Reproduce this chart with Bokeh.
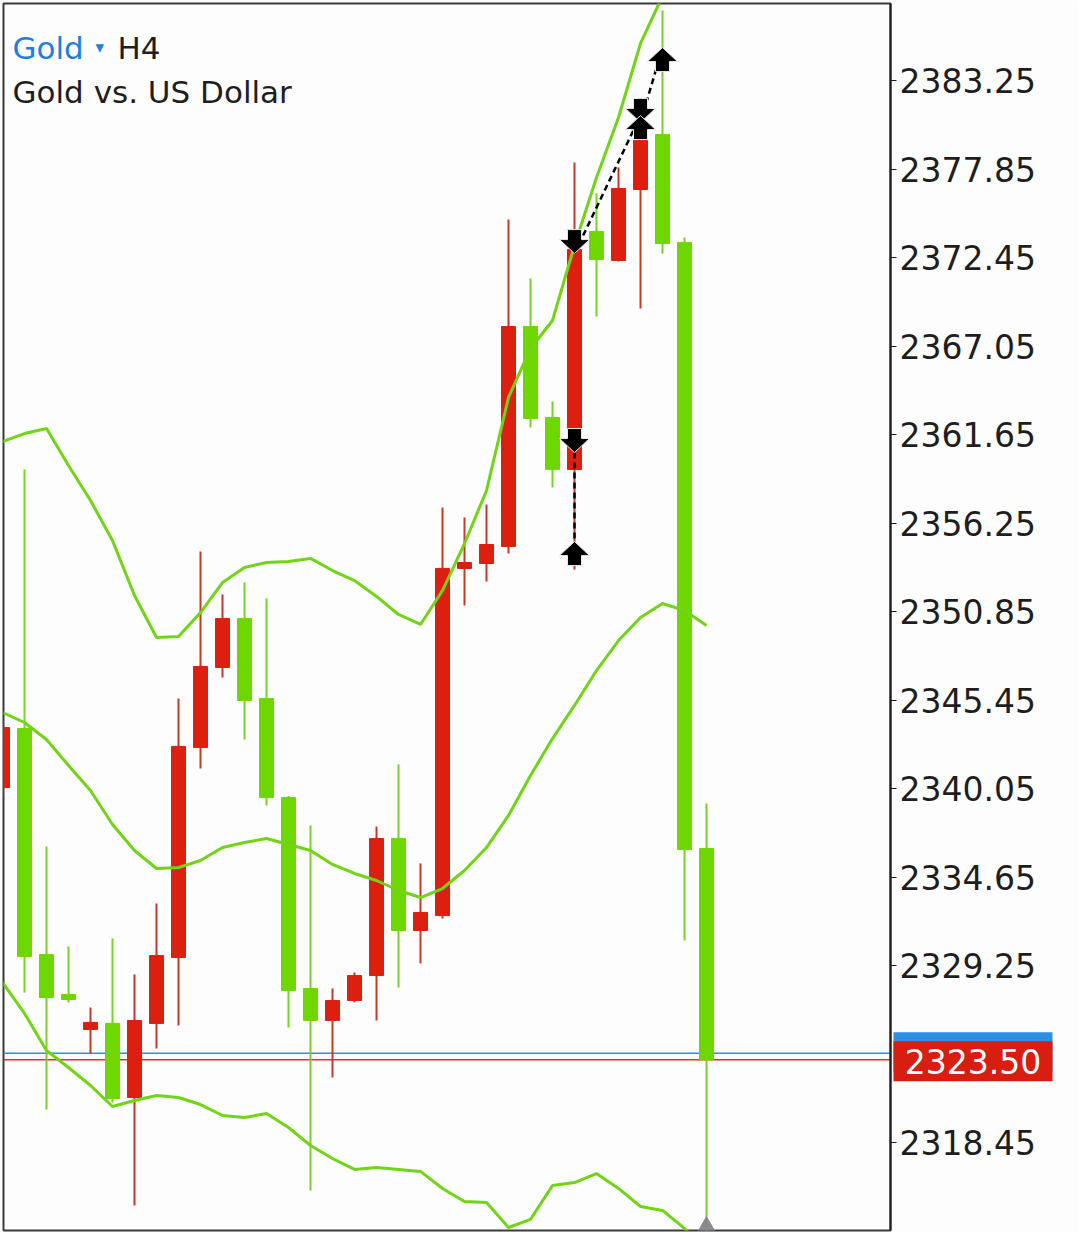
from bokeh.plotting import figure
from bokeh.layouts import row
from bokeh.models import (Range1d, FixedTicker, PrintfTickFormatter, Span, Label,
                          ColumnDataSource)
from bokeh.core.properties import value
from bokeh.embed import file_html
from bokeh.resources import INLINE

# ---------------- data (Gold H4 candles) ----------------
opens = [2340.11, 2343.71, 2329.92, 2327.48, 2325.35, 2325.72, 2321.20, 2325.72, 2329.74, 2342.55,
         2347.44, 2350.42, 2345.54, 2339.50, 2327.85, 2325.90, 2327.12, 2328.64, 2337.00, 2331.39,
         2332.30, 2353.48, 2353.78, 2354.82, 2368.24, 2362.69, 2359.52, 2374.04, 2372.27, 2376.60,
         2379.96, 2373.37, 2336.39]
highs = [2344.20, 2359.52, 2336.51, 2330.41, 2326.69, 2330.90, 2328.70, 2333.04, 2345.54, 2354.51,
         2351.89, 2352.62, 2351.65, 2339.60, 2337.80, 2327.85, 2328.83, 2337.73, 2341.52, 2335.48,
         2357.20, 2356.59, 2357.38, 2374.77, 2371.17, 2363.66, 2378.25, 2376.36, 2377.94, 2380.80,
         2387.52, 2373.67, 2339.14]
lows = [2339.60, 2327.61, 2320.47, 2327.00, 2323.88, 2320.90, 2314.61, 2324.19, 2325.59, 2341.27,
        2346.82, 2343.04, 2339.02, 2325.47, 2315.53, 2322.42, 2327.00, 2325.90, 2327.91, 2329.38,
        2332.12, 2351.22, 2352.68, 2354.39, 2362.08, 2358.42, 2353.41, 2368.85, 2372.21, 2369.34,
        2372.69, 2330.78, 2312.00]
closes = [2343.77, 2329.80, 2327.30, 2327.18, 2325.78, 2321.14, 2325.90, 2329.86, 2342.62, 2347.50,
          2350.42, 2345.42, 2339.50, 2327.73, 2325.90, 2327.12, 2328.64, 2337.00, 2331.39, 2332.49,
          2353.48, 2353.84, 2354.94, 2368.24, 2362.63, 2359.52, 2372.94, 2372.33, 2376.66, 2379.59,
          2373.30, 2336.33, 2323.50]

bb_upper = [2361.22, 2361.71, 2362.02, 2359.76, 2357.62, 2355.18, 2351.83, 2349.27, 2349.33, 2350.79,
            2352.62, 2353.54, 2353.84, 2353.90, 2354.09, 2353.35, 2352.74, 2351.77, 2350.67, 2350.06,
            2352.13, 2355.00, 2358.23, 2363.91, 2366.90, 2368.61, 2373.18, 2377.33, 2380.99, 2385.51,
            2388.40, 2395.00, 2399.00]
bb_middle = [2344.69, 2344.08, 2343.04, 2341.46, 2339.93, 2337.86, 2336.27, 2335.17, 2335.23, 2335.66,
             2336.45, 2336.76, 2337.00, 2336.64, 2336.27, 2335.42, 2334.87, 2334.44, 2333.83, 2333.40,
             2333.95, 2335.05, 2336.45, 2338.41, 2340.85, 2343.10, 2345.12, 2347.25, 2349.08, 2350.49,
             2351.34, 2350.91, 2350.00]
bb_lower = [2328.22, 2326.33, 2324.07, 2323.03, 2321.93, 2320.65, 2321.02, 2321.32, 2321.20, 2320.77,
            2320.10, 2319.98, 2320.22, 2319.37, 2318.27, 2317.48, 2316.81, 2316.93, 2316.81, 2316.69,
            2315.65, 2314.85, 2314.79, 2313.27, 2313.76, 2315.83, 2316.01, 2316.56, 2315.65, 2314.55,
            2314.31, 2313.21, 2311.90]

tick_values = [2383.25, 2377.85, 2372.45, 2367.05, 2361.65, 2356.25, 2350.85,
               2345.45, 2340.05, 2334.65, 2329.25, 2318.45]
bid_price = 2323.50
ask_price = 2323.90

# trades: open (sell arrow, pointing down) -> close (buy arrow, pointing up)
trade_open_idx = [26, 26, 29]
trade_open_price = [2360.55, 2372.69, 2380.69]
trade_close_idx = [26, 29, 30]
trade_close_price = [2355.12, 2381.11, 2385.26]

# ---------------- layout constants ----------------
PX_X = 22.0      # pixels per bar
PX_Y = 16.39     # pixels per dollar
LEFT, TOP, BOTTOM = 3, 3, 3
FRAME_W = 887
FRAME_H = 1227
AXIS_W = 188
TOTAL_W = LEFT + FRAME_W + AXIS_W
TOTAL_H = TOP + FRAME_H + BOTTOM

x_start = (LEFT - 2) / PX_X
x_end = x_start + FRAME_W / PX_X
y_top = 2383.25 + (80 - TOP) / PX_Y
y_bot = y_top - FRAME_H / PX_Y


def sx(px):
    return x_start + (px - LEFT) / PX_X


def sy(py):
    return y_top - (py - TOP) / PX_Y


RED = "#dc1f0e"
GREEN = "#6fd700"
RED_WICK = "#c0392b"
GREEN_WICK = "#7ccf2a"
BAND = "#72d416"
FONT = "DejaVu Sans"

y_range = Range1d(y_bot, y_top)
p = figure(width=TOTAL_W, height=TOTAL_H,
           x_range=Range1d(x_start, x_end), y_range=y_range,
           output_backend="svg", toolbar_location=None,
           x_axis_location=None, y_axis_location="right",
           min_border_left=LEFT, min_border_top=TOP, min_border_bottom=BOTTOM,
           min_border_right=AXIS_W)
p.grid.visible = False
p.background_fill_color = "#fdfdfd"
p.border_fill_color = "#fdfdfd"
p.outline_line_color = "#3a3a3a"
p.outline_line_width = 2

ax = p.yaxis[0]
ax.ticker = FixedTicker(ticks=tick_values, minor_ticks=[])
ax.formatter = PrintfTickFormatter(format="%.2f")
ax.major_tick_out = 6
ax.major_tick_in = 0
ax.minor_tick_out = 0
ax.minor_tick_in = 0
ax.major_label_standoff = 3
ax.axis_line_width = 2
ax.axis_line_color = "#1e1e1e"
ax.major_tick_line_color = "#1e1e1e"
ax.major_tick_line_width = 1
ax.major_label_text_font = FONT
ax.major_label_text_font_size = "33px"
ax.major_label_text_color = "#1e1e1e"

# price lines (behind candles)
p.add_layout(Span(location=ask_price, dimension="width", line_color="#2b8fe6",
                  line_width=1.5, level="underlay"))
p.add_layout(Span(location=bid_price, dimension="width", line_color="#e0301f",
                  line_width=1.5, level="underlay"))

# candles
idx = list(range(len(opens)))
up = [c >= o for o, c in zip(opens, closes)]
src = ColumnDataSource(dict(
    x=idx, high=highs, low=lows,
    top=[max(o, c) for o, c in zip(opens, closes)],
    bottom=[min(o, c) for o, c in zip(opens, closes)],
    body=[RED if u else GREEN for u in up],
    wick=[RED_WICK if u else GREEN_WICK for u in up],
))
p.segment(x0="x", y0="low", x1="x", y1="high", line_color="wick", line_width=2, source=src)
p.vbar(x="x", width=14.0 / PX_X, top="top", bottom="bottom", fill_color="body",
       line_color="body", line_width=1, source=src)

# Bollinger bands
for band in (bb_upper, bb_middle, bb_lower):
    p.line(idx, band, line_color=BAND, line_width=3)

# trade lines
p.segment(x0=trade_open_idx, y0=trade_open_price, x1=trade_close_idx, y1=trade_close_price,
          line_color="black", line_width=2.5, line_dash="6 4")

# trade arrows
HEAD_HW, HEAD_H, SHAFT_HW, SHAFT_H = 15, 14, 7, 10
shape = [(0, 0), (-HEAD_HW, HEAD_H), (-SHAFT_HW, HEAD_H), (-SHAFT_HW, HEAD_H + SHAFT_H),
         (SHAFT_HW, HEAD_H + SHAFT_H), (SHAFT_HW, HEAD_H), (HEAD_HW, HEAD_H)]


def arrow(xi, price, down):
    s = 1 if down else -1
    return ([xi + dx / PX_X for dx, dy in shape], [price + s * dy / PX_Y for dx, dy in shape])


axs, ays = [], []
for xi, pr in zip(trade_open_idx, trade_open_price):
    a, b = arrow(xi, pr, True)
    axs.append(a)
    ays.append(b)
for xi, pr in zip(trade_close_idx, trade_close_price):
    a, b = arrow(xi, pr, False)
    axs.append(a)
    ays.append(b)
p.patches(axs, ays, fill_color="black", line_color="#e8e8e8", line_width=1)

# marker at bottom of the current candle
p.scatter(x=[idx[-1]], y=[y_bot], marker="triangle", size=24, fill_color="#8a8a8a",
          line_color="#8a8a8a")

# title texts
p.add_layout(Label(x=sx(12), y=sy(47), text="Gold", text_color="#1f7ee0",
                   text_font=FONT, text_font_size="31px", text_baseline="middle"))
p.add_layout(Label(x=sx(95), y=sy(46), text="\u25be", text_color="#1f7ee0",
                   text_font=FONT, text_font_size="17px", text_baseline="middle"))
p.add_layout(Label(x=sx(117), y=sy(47), text="H4", text_color="#1e1e1e",
                   text_font=FONT, text_font_size="31px", text_baseline="middle"))
p.add_layout(Label(x=sx(12), y=sy(91), text="Gold vs. US Dollar", text_color="#1e1e1e",
                   text_font=FONT, text_font_size="31px", text_baseline="middle"))

# ---------------- transparent overlay over the price axis: current price tags ----------------
TAG_W = 190
tag = figure(width=TAG_W, height=TOTAL_H, x_range=Range1d(0, TAG_W), y_range=y_range,
             output_backend="svg", toolbar_location=None,
             x_axis_location=None, y_axis_location=None,
             min_border_left=0, min_border_right=0, min_border_top=TOP,
             min_border_bottom=BOTTOM)
tag.grid.visible = False
tag.background_fill_alpha = 0
tag.border_fill_alpha = 0
tag.outline_line_color = None
tag.margin = (0, 0, 0, -TAG_W)

box_cx = (893 + 1052) / 2.0 - (TOTAL_W - TAG_W)
box_cy = bid_price - 1.5 / PX_Y
tag.rect(x=[box_cx], y=[box_cy + 9.0 / PX_Y], width=159, height=40,
         height_units="screen", fill_color="#2b8fe6", line_color=None)
tag.rect(x=[box_cx], y=[box_cy], width=159, height=40,
         height_units="screen", fill_color="#d81e10", line_color=None)
tag.text(x=[box_cx], y=[box_cy], text=["%.2f" % bid_price], text_color="white",
         text_font=value(FONT), text_font_size="33px", text_align="center",
         text_baseline="middle")

layout = row(p, tag)
open("out.html", "w").write(file_html(layout, INLINE))
